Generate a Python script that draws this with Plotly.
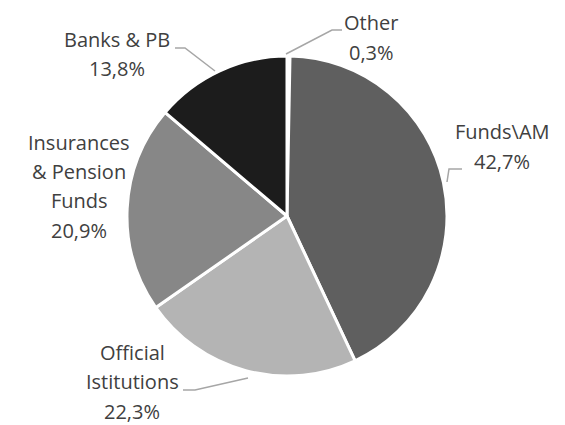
import plotly.graph_objects as go

labels = ["Other", "Funds\\AM", "Official Istitutions", "Insurances & Pension Funds", "Banks & PB"]
label_lines = [["Other"], ["Funds\\AM"], ["Official", "Istitutions"],
               ["Insurances", "& Pension", "Funds"], ["Banks & PB"]]
values = [0.3, 42.7, 22.3, 20.9, 13.8]
colors = ["#ffffff", "#5f5f5f", "#b4b4b4", "#878787", "#1c1c1c"]

W, H = 565, 425
cx, cy, r = 287, 216, 160

fig = go.Figure(go.Pie(
    values=values, labels=labels, sort=False, direction="clockwise", rotation=0,
    marker=dict(colors=colors, line=dict(color="white", width=3)),
    textinfo="none", hoverinfo="label+percent", showlegend=False,
    domain=dict(x=[(cx - r) / W, (cx + r) / W], y=[(H - cy - r) / H, (H - cy + r) / H]),
))

# label block positions: centre x, first-line centre y (pixels)
label_pos = [(371, 23), (502, 132), (132, 352), (79, 142), (117, 39)]
line_step = 29.5
for lines, val, (px, py) in zip(label_lines, values, label_pos):
    all_lines = lines + [f"{val:.1f}%".replace(".", ",")]
    for i, t in enumerate(all_lines):
        fig.add_annotation(
            x=px / W, y=1 - (py + i * line_step) / H, xref="paper", yref="paper",
            text=t, showarrow=False, align="center", xanchor="center", yanchor="middle",
            font=dict(family="Open Sans", size=20, color="#404040"),
        )

# leader lines (pixel paths)
leaders = [
    [(286, 54), (332, 30), (342, 30)],
    [(447, 182), (449, 169), (462, 169)],
    [(248, 378), (195, 390), (183, 390)],
    [(215, 71), (185, 48), (175, 48)],
]
for pts in leaders:
    path = "M " + " L ".join(f"{x / W},{1 - y / H}" for x, y in pts)
    fig.add_shape(type="path", xref="paper", yref="paper", path=path,
                  line=dict(color="#a6a6a6", width=1.5))

fig.update_layout(width=W, height=H, margin=dict(l=0, r=0, t=0, b=0),
                  paper_bgcolor="white", plot_bgcolor="white")
fig.write_html("out.html", config={"displayModeBar": False},
               post_script="document.body.style.margin='0';document.body.style.padding='0';")
